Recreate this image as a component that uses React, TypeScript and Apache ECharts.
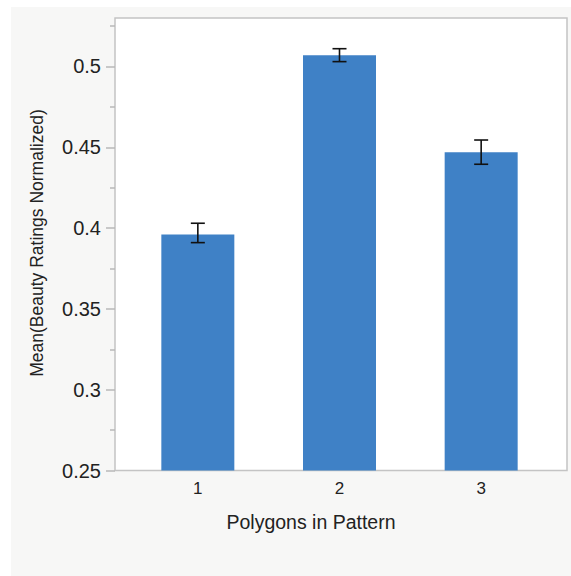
import React, { useEffect, useRef } from "react";
import * as echarts from "echarts";

const categories = ["1", "2", "3"];
const means = [0.396, 0.507, 0.447];
const errLow = [0.391, 0.503, 0.4395];
const errHigh = [0.403, 0.511, 0.4545];
const yTicks = [0.25, 0.3, 0.35, 0.4, 0.45, 0.5];

const FONT = "Liberation Sans, Arial, Helvetica, sans-serif";

export default function App() {
  const ref = useRef<HTMLDivElement>(null);
  useEffect(() => {
    document.body.style.margin = "0";
    const chart = echarts.init(ref.current!, null, { renderer: "svg" });
    const errData = categories.map((_, i) => [i, errLow[i], errHigh[i]]);
    chart.setOption({
      animation: false,
      backgroundColor: "#ffffff",
      grid: { left: 127, right: 19, top: 18, bottom: 105.5, containLabel: false },
      graphic: [
        {
          type: "rect",
          z: -10,
          silent: true,
          shape: { x: 11, y: 7, width: 560, height: 569 },
          style: { fill: "#f7f7f6" },
        },
        {
          type: "rect",
          z: -5,
          silent: true,
          shape: { x: 115, y: 18, width: 452, height: 452.5 },
          style: { fill: "#ffffff", stroke: "#c4c4c4", lineWidth: 1.5 },
        },
        {
          type: "text",
          x: 311,
          y: 522,
          style: {
            text: "Polygons in Pattern",
            fontSize: 19.5,
            fontFamily: FONT,
            fill: "#222222",
            align: "center",
            verticalAlign: "middle",
          },
        },
        {
          type: "text",
          x: 37,
          y: 243,
          rotation: Math.PI / 2,
          style: {
            text: "Mean(Beauty Ratings Normalized)",
            fontSize: 17.5,
            fontFamily: FONT,
            fill: "#222222",
            align: "center",
            verticalAlign: "middle",
          },
        },
      ],
      xAxis: {
        type: "category",
        data: categories,
        axisLine: { show: false },
        axisTick: { show: false },
        axisLabel: { fontSize: 17, fontFamily: FONT, color: "#222222", margin: 9 },
        splitLine: { show: false },
      },
      yAxis: {
        type: "value",
        min: 0.25,
        max: 0.53,
        interval: 0.05,
        offset: 12,
        axisLine: { show: false },
        axisTick: {
          show: true,
          length: 9,
          customValues: yTicks,
          lineStyle: { color: "#b8b8b8", width: 1.5 },
        },
        minorTick: {
          show: true,
          splitNumber: 2,
          length: 5,
          lineStyle: { color: "#b8b8b8", width: 1.5 },
        },
        axisLabel: {
          customValues: yTicks,
          fontSize: 20,
          fontFamily: FONT,
          color: "#222222",
          margin: 14,
          formatter: (v: number) => String(Math.round(v * 1000) / 1000),
        },
        splitLine: { show: false },
      },
      series: [
        {
          type: "bar",
          data: means,
          barWidth: 73,
          itemStyle: { color: "#3f81c6" },
          z: 2,
        },
        {
          type: "custom",
          data: errData,
          z: 5,
          renderItem: (params: any, api: any) => {
            const x = api.value(0);
            const lo = api.coord([x, api.value(1)]);
            const hi = api.coord([x, api.value(2)]);
            const half = 7;
            const style = { stroke: "#111111", lineWidth: 1.6, fill: "none" };
            return {
              type: "group",
              children: [
                { type: "line", shape: { x1: hi[0], y1: hi[1], x2: lo[0], y2: lo[1] }, style },
                { type: "line", shape: { x1: hi[0] - half, y1: hi[1], x2: hi[0] + half, y2: hi[1] }, style },
                { type: "line", shape: { x1: lo[0] - half, y1: lo[1], x2: lo[0] + half, y2: lo[1] }, style },
              ],
            };
          },
        },
      ],
    });
    return () => chart.dispose();
  }, []);
  return <div ref={ref} style={{ width: 571, height: 576 }} />;
}
